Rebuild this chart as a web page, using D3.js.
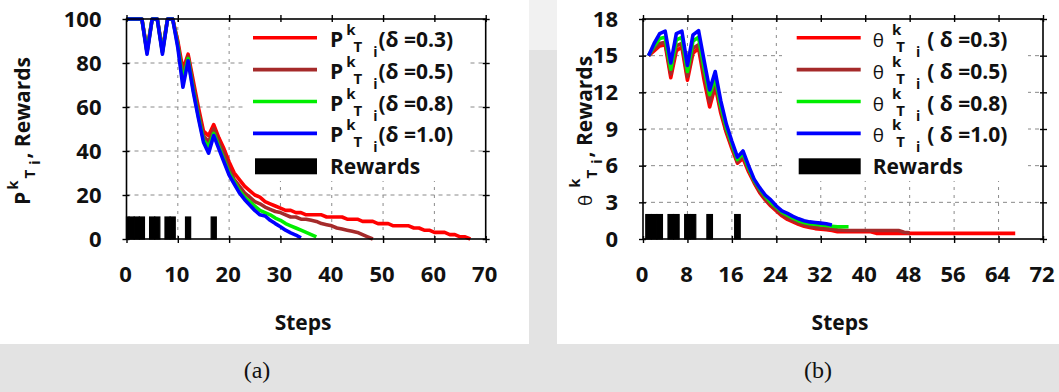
<!DOCTYPE html>
<html>
<head>
<meta charset="utf-8">
<script src="https://cdn.jsdelivr.net/npm/d3@7"></script>
<style>
  body { margin: 0; background: #e3e3e3; }
  svg text { font-family: "Open Sans", sans-serif; font-weight: 700; fill: #111; }
  .caption { font-family: "Liberation Serif", serif; font-weight: 400; }
</style>
</head>
<body>
<svg id="fig" width="1059" height="392"></svg>
<script>
// ---- data ----
// (a) P^k_Ti per step, steps start at 0
const pDelta03 = [100,100,100,100,86,100,100,86,100,100,
  90,77,84,72,60,49,47,52,46,41,
  35,30,27,24,22,20,19,17,16,15,
  14,13,13,12,12,11,11,11,11,10,
  10,10,10,9,9,9,8,8,8,7,
  7,7,6,6,6,6,5,5,4,4,
  3,3,3,2,2,1,1,0];
const pDelta05 = [100,100,100,100,85,100,100,85,100,100,
  89,74,83,70,58,47,44,50,44,39,
  32,27,24,21,19,17,16,14.5,13.5,12.5,
  12,11,10,10,9,9,8.5,8,7,6.5,
  6,5,4.5,4,3.5,3,2,1,0];
const pDelta08 = [100,100,100,100,85,100,100,85,100,100,
  88,72,82,68,56,45,42,48,42,36,
  30,26,22,19,17,15,13,12,11,9.5,
  8.5,7,6,5,4,3,2,1];
const pDelta10 = [100,100,100,100,84,100,100,84,100,100,
  87,69,81,67,55,44,39,47,41,35,
  29,25,21,18,15.5,13,11,10.5,8.5,7,
  5.6,4,2.8,1.8,0.5];

// (b) theta^k_Ti per step, steps start at 1
const thetaDelta03 = [15.0,15.4,15.8,15.9,13.2,15.4,15.7,13.0,15.2,15.6,
  13.0,10.8,12.5,10.3,8.7,7.4,6.2,6.6,5.5,4.6,
  3.8,3.2,2.7,2.3,1.9,1.6,1.4,1.2,1.05,0.95,
  0.85,0.8,0.75,0.7,0.6,0.6,0.6,0.6,0.6,0.6,
  0.6,0.46,0.46,0.46,0.46,0.46,0.46,0.46,0.46,0.46,
  0.46,0.46,0.46,0.46,0.46,0.46,0.46,0.46,0.46,0.46,
  0.46,0.46,0.46,0.46,0.46,0.46,0.46];
const thetaDelta05 = [15.0,15.6,16.0,16.1,13.5,15.8,16.0,13.3,15.6,15.9,
  13.5,11.2,12.8,10.6,8.9,7.6,6.3,6.8,5.7,4.7,
  3.9,3.3,2.8,2.4,2.0,1.7,1.5,1.3,1.15,1.05,
  0.95,0.9,0.85,0.8,0.75,0.72,0.7,0.7,0.7,0.7,
  0.7,0.7,0.7,0.7,0.7,0.7,0.55,0.5];
const thetaDelta08 = [15.0,15.8,16.4,16.5,13.9,16.3,16.5,13.7,16.2,16.5,
  14.0,11.8,13.2,10.9,9.1,7.8,6.5,7.0,5.8,4.8,
  4.1,3.5,3.0,2.6,2.2,1.95,1.7,1.5,1.35,1.25,
  1.2,1.15,1.1,1.05,1.0,1.0,1.0];
const thetaDelta10 = [15.0,16.0,16.8,17.0,14.4,16.8,17.0,14.2,16.7,17.05,
  14.6,12.2,13.7,11.3,9.4,8.0,6.7,7.2,6.0,4.9,
  4.2,3.6,3.2,2.7,2.3,2.1,1.85,1.65,1.5,1.4,
  1.35,1.3,1.25,1.15];

const rewardStepsA = [0,1,2,3,5,6,8,9,12,17];
const rewardStepsB = [1,2,3,5,6,8,9,12,17];
const rewardValueA = 10;
const rewardValueB = 2;

const deltas = ["0.3", "0.5", "0.8", "1.0"];
const colors = ["#ff0000", "#a52a2a", "#00ee00", "#0000ff"];

const xTicksA = [0,10,20,30,40,50,60,70];
const yTicksA = [0,20,40,60,80,100];
const xTicksB = [0,8,16,24,32,40,48,56,64,72];
const yTicksB = [0,3,6,9,12,15,18];

// ---- drawing ----
const svg = d3.select("#fig");
svg.append("rect").attr("width", 1059).attr("height", 392).attr("fill", "#e3e3e3");
svg.append("rect").attr("x", 529).attr("y", 0).attr("width", 28).attr("height", 50).attr("fill", "#f1f1f1");
svg.append("rect").attr("x", 0).attr("y", 0).attr("width", 529).attr("height", 344).attr("fill", "#fff");
svg.append("rect").attr("x", 557).attr("y", 0).attr("width", 502).attr("height", 344).attr("fill", "#fff");

function writeParts(text, parts) {
  parts.forEach(p => {
    text.append("tspan").text(p.t)
      .attr("font-size", p.size)
      .attr("dx", p.dx || 0)
      .attr("dy", p.dy || 0)
      .style("font-weight", p.weight || null);
  });
}

function drawPanel(o) {
  const x = d3.scaleLinear().domain([0, o.xTicks[o.xTicks.length - 1]]).range([o.left, o.right]);
  const y = d3.scaleLinear().domain([0, o.yTicks[o.yTicks.length - 1]]).range([o.bottom, o.top]);
  const g = svg.append("g");

  // dashed grid
  g.append("g").selectAll("line").data(o.xTicks.slice(1, -1)).join("line")
    .attr("x1", d => x(d)).attr("x2", d => x(d))
    .attr("y1", o.top).attr("y2", o.bottom)
    .attr("stroke", "#8a8a8a").attr("stroke-width", 1).attr("stroke-dasharray", "3,5");
  g.append("g").selectAll("line").data(o.yTicks.slice(1, -1)).join("line")
    .attr("x1", o.left).attr("x2", o.right)
    .attr("y1", d => y(d)).attr("y2", d => y(d))
    .attr("stroke", "#8a8a8a").attr("stroke-width", 1).attr("stroke-dasharray", "4,4");

  // opaque key box
  g.append("rect").attr("x", o.key.boxX0).attr("y", o.top + 1)
    .attr("width", o.key.boxX1 - o.key.boxX0).attr("height", o.key.boxBottom - o.top - 1)
    .attr("fill", "#fff");

  // reward bars
  g.append("g").selectAll("rect").data(o.rewards).join("rect")
    .attr("x", d => Math.max(x(d - 0.5), x(0)))
    .attr("width", d => x(d + 0.5) - Math.max(x(d - 0.5), x(0)))
    .attr("y", y(o.rewardValue))
    .attr("height", y(0) - y(o.rewardValue))
    .attr("fill", "#000").attr("stroke", "#000").attr("stroke-width", 1.2);

  // series lines
  const line = d3.line().x(d => x(d[0])).y(d => y(d[1]));
  o.series.forEach((vals, k) => {
    g.append("path")
      .datum(vals.map((v, i) => [o.firstStep + i, v]))
      .attr("d", line)
      .attr("fill", "none").attr("stroke", colors[k])
      .attr("stroke-width", 3.6).attr("stroke-linejoin", "round");
  });

  // border
  g.append("rect").attr("x", o.left).attr("y", o.top)
    .attr("width", o.right - o.left).attr("height", o.bottom - o.top)
    .attr("fill", "none").attr("stroke", "#000").attr("stroke-width", 1.6);

  // axes
  const bottom = g.append("g").attr("transform", `translate(0,${o.bottom})`)
    .call(d3.axisBottom(x).tickValues(o.xTicks).tickSize(4));
  bottom.selectAll(".tick line").attr("y1", -3).attr("y2", 4).attr("stroke-width", 1.4);
  bottom.selectAll(".tick text").attr("y", 43).attr("dy", null).attr("dx", -1.5);
  bottom.attr("font-size", 22);

  const left = g.append("g").attr("transform", `translate(${o.left},0)`)
    .call(d3.axisLeft(y).tickValues(o.yTicks).tickSize(4));
  left.selectAll(".tick line").attr("x1", 3).attr("x2", -4).attr("stroke-width", 1.4);
  left.selectAll(".tick text").attr("x", -25);
  left.attr("font-size", 22);

  const top = g.append("g").attr("transform", `translate(0,${o.top})`)
    .call(d3.axisTop(x).tickValues(o.xTicks).tickFormat("").tickSize(4));
  top.selectAll(".tick line").attr("y1", 3).attr("y2", -4).attr("stroke-width", 1.4);

  const right = g.append("g").attr("transform", `translate(${o.right},0)`)
    .call(d3.axisRight(y).tickValues(o.yTicks).tickFormat("").tickSize(4));
  right.selectAll(".tick line").attr("x1", -3).attr("x2", 4).attr("stroke-width", 1.4);

  [bottom, left, top, right].forEach(a => a.select(".domain").remove());

  // axis titles
  g.append("text").attr("x", (o.left + o.right) / 2 - 3).attr("y", 330)
    .attr("text-anchor", "middle").attr("font-size", 21).text("Steps");
  const yt = g.append("text")
    .attr("transform", `translate(${o.yTitleX},131) rotate(-90)`)
    .attr("text-anchor", "middle");
  writeParts(yt, o.yTitle);

  // key
  const key = g.append("g");
  deltas.forEach((d, k) => {
    const ly = o.key.row0 + k * o.key.rowStep;
    key.append("line").attr("x1", o.key.lineX0).attr("x2", o.key.lineX1)
      .attr("y1", ly).attr("y2", ly)
      .attr("stroke", colors[k]).attr("stroke-width", 3.6);
    const t = key.append("text").attr("x", o.key.textX).attr("y", ly + 9);
    writeParts(t, o.keyLabel(d));
  });
  const ry = o.key.row0 + 4 * o.key.rowStep;
  key.append("rect").attr("x", o.key.lineX0 + 2).attr("y", ry - 7)
    .attr("width", o.key.lineX1 - o.key.lineX0 - 2).attr("height", 16).attr("fill", "#000");
  key.append("text").attr("x", o.key.textX).attr("y", ry + 9).attr("font-size", 21).text("Rewards");

  // caption
  svg.append("text").attr("class", "caption")
    .attr("x", o.captionX).attr("y", 378).attr("text-anchor", "middle")
    .attr("font-size", 24).text(o.caption);
}

drawPanel({
  left: 126.5, right: 485.7, top: 19, bottom: 239,
  xTicks: xTicksA, yTicks: yTicksA,
  series: [pDelta03, pDelta05, pDelta08, pDelta10], firstStep: 0,
  rewards: rewardStepsA, rewardValue: rewardValueA,
  yTitleX: 30,
  yTitle: [
    {t: "P", size: 21},
    {t: "k", size: 15, dx: 2, dy: -12},
    {t: "T", size: 15, dx: 2, dy: 17},
    {t: "i", size: 14, dx: 5, dy: 5},
    {t: ", Rewards", size: 21, dx: 2, dy: -10}
  ],
  keyLabel: d => [
    {t: "P", size: 21},
    {t: "k", size: 15, dx: 3, dy: -12},
    {t: "T", size: 15, dx: -2, dy: 17},
    {t: "i", size: 14, dx: 11, dy: 5},
    {t: "(\u03b4 =" + d + ")", size: 21, dx: 1, dy: -10}
  ],
  key: {boxX0: 244, boxX1: 468, boxBottom: 181, row0: 37.7, rowStep: 31.9,
        lineX0: 253, lineX1: 317, textX: 330},
  caption: "(a)", captionX: 257
});

drawPanel({
  left: 643, right: 1043, top: 19, bottom: 239,
  xTicks: xTicksB, yTicks: yTicksB,
  series: [thetaDelta03, thetaDelta05, thetaDelta08, thetaDelta10], firstStep: 1,
  rewards: rewardStepsB, rewardValue: rewardValueB,
  yTitleX: 592,
  yTitle: [
    {t: "\u03b8", size: 19, weight: 400},
    {t: "k", size: 15, dx: 7, dy: -12},
    {t: "T", size: 15, dx: 0, dy: 17},
    {t: "i", size: 14, dx: 6, dy: 5},
    {t: ", Rewards", size: 21, dx: 2, dy: -10}
  ],
  keyLabel: d => [
    {t: "\u03b8", size: 19, weight: 400},
    {t: "k", size: 15, dx: 8, dy: -12},
    {t: "T", size: 15, dx: -5, dy: 17},
    {t: "i", size: 14, dx: 11, dy: 5},
    {t: "( \u03b4 =" + d + ")", size: 21, dx: 7, dy: -10}
  ],
  key: {boxX0: 782, boxX1: 1028, boxBottom: 181, row0: 37.7, rowStep: 31.9,
        lineX0: 796.7, lineX1: 860.7, textX: 872.7},
  caption: "(b)", captionX: 818
});
</script>
</body>
</html>
